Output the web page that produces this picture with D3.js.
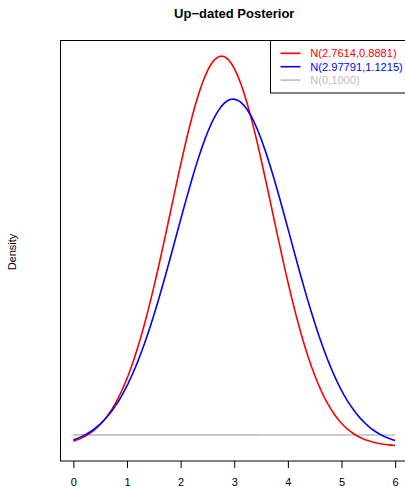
<!DOCTYPE html>
<html>
<head>
<meta charset="utf-8">
<script src="https://cdn.jsdelivr.net/npm/d3@7"></script>
<style>
  body { margin: 0; background: #fff; }
  text { font-family: "Liberation Sans", Arial, sans-serif; }
</style>
</head>
<body>
<div id="chart"></div>
<script>
// posterior / prior normals, second parameter is the variance
const labels = ['N(2.7614,0.8881)', 'N(2.97791,1.1215)', 'N(0,1000)'];
const means = [2.7614, 2.97791, 0];
const variances = [0.8881, 1.1215, 1000];
const colours = ['#ff0000', '#0000ff', '#bebebe'];
const xTicks = [0, 1, 2, 3, 4, 5, 6];
const xRange = [0, 6];

const width = 405;
const height = 487;
const box = { left: 60.5, right: 408, top: 40.5, bottom: 461 };

function dnorm(x, m, v) {
  return Math.exp(-((x - m) * (x - m)) / (2 * v)) / Math.sqrt(2 * Math.PI * v);
}

// same grid as R's curve(): 101 points over the range
const grid = d3.range(101).map(i => xRange[0] + i * (xRange[1] - xRange[0]) / 100);
const series = labels.map((name, i) => ({
  name,
  colour: colours[i],
  points: grid.map(x => [x, dnorm(x, means[i], variances[i])]),
}));

const allY = series.flatMap(s => s.points.map(p => p[1]));
const [yMin, yMax] = d3.extent(allY);
const pad = (yMax - yMin) * 0.04;

const x = d3.scaleLinear()
    .domain([xRange[0] - 0.24, xRange[1] + 0.24])
    .range([box.left, box.right]);

const y = d3.scaleLinear()
    .domain([yMin - pad, yMax + pad])
    .range([box.bottom, box.top]);

const svg = d3.select('#chart').append('svg')
    .attr('width', width)
    .attr('height', height);

svg.append('rect')
    .attr('width', width).attr('height', height)
    .attr('fill', '#fff');

const line = d3.line()
    .x(d => x(d[0]))
    .y(d => y(d[1]));

// gray prior first, blue posterior drawn over red
[2, 0, 1].forEach(i => {
  svg.append('path')
      .datum(series[i].points)
      .attr('d', line)
      .attr('fill', 'none')
      .attr('stroke', series[i].colour)
      .attr('stroke-width', 1.6);
});

// plot box
svg.append('rect')
    .attr('x', box.left).attr('y', box.top)
    .attr('width', box.right - box.left)
    .attr('height', box.bottom - box.top)
    .attr('fill', 'none')
    .attr('stroke', '#000')
    .attr('stroke-width', 1);

const xAxis = svg.append('g')
    .attr('transform', `translate(0,${box.bottom})`)
    .call(d3.axisBottom(x).tickValues(xTicks).tickSize(7).tickPadding(10).tickFormat(d3.format('d')));
xAxis.select('.domain').remove();
xAxis.selectAll('text').attr('font-size', 11).attr('fill', '#000')
    .style('font-family', '"Liberation Sans", Arial, sans-serif');
xAxis.selectAll('line').attr('stroke', '#000');

svg.append('text')
    .attr('x', (box.left + box.right) / 2)
    .attr('y', 17.5)
    .attr('text-anchor', 'middle')
    .attr('font-size', 13)
    .attr('font-weight', 'bold')
    .text('Up\u2212dated Posterior');

svg.append('text')
    .attr('transform', `translate(16,252) rotate(-90)`)
    .attr('text-anchor', 'middle')
    .attr('font-size', 11)
    .text('Density');

// legend, top right of the plot box
const legend = svg.append('g');
legend.append('rect')
    .attr('x', 270.5).attr('y', box.top)
    .attr('width', box.right - 270.5)
    .attr('height', 93 - box.top)
    .attr('fill', '#fff')
    .attr('stroke', '#000');

series.forEach((s, i) => {
  const ry = 53.3 + i * 13.4;
  legend.append('line')
      .attr('x1', 280.5).attr('x2', 300.5)
      .attr('y1', ry).attr('y2', ry)
      .attr('stroke', s.colour)
      .attr('stroke-width', 1.6);
  legend.append('text')
      .attr('x', 310.3).attr('y', ry)
      .attr('dy', '0.36em')
      .attr('font-size', 11.1)
      .attr('fill', s.colour)
      .text(s.name);
});
</script>
</body>
</html>
